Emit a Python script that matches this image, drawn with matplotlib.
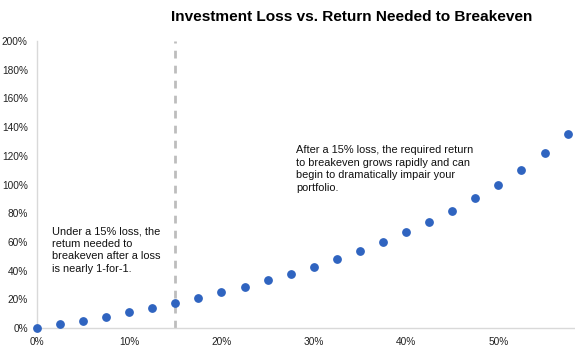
import matplotlib
matplotlib.use('Agg')
from matplotlib import pyplot as plt
from matplotlib.ticker import PercentFormatter

plt.rcParams['font.family'] = ['Liberation Sans', 'DejaVu Sans']

# loss (x) and return needed to breakeven (y)
loss = [0, 2.5, 5, 7.5, 10, 12.5, 15, 17.5, 20, 22.5, 25, 27.5,
        30, 32.5, 35, 37.5, 40, 42.5, 45, 47.5, 50, 52.5, 55, 57.5]
needed = [0, 2.6, 5.3, 8.1, 11.1, 14.3, 17.6, 21.2, 25, 29, 33.3, 37.9,
          42.9, 48.1, 53.8, 60, 66.7, 73.9, 81.8, 90.5, 100, 110.5, 122.2, 135.3]
x_ticks = [0, 10, 20, 30, 40, 50]
y_ticks = [0, 20, 40, 60, 80, 100, 120, 140, 160, 180, 200]
cutoff = 15

fig = plt.figure(figsize=(5.75, 3.54), dpi=100)
ax = fig.add_axes([0.064, 0.073, 0.936, 0.811])

ax.scatter(loss, needed, s=28, color='#2f64c0', zorder=3, clip_on=False)
ax.axvline(cutoff, color='#bdbdbd', linewidth=2.0, linestyle=(0, (2.8, 2.6)))

ax.set_xlim(0, 58.3)
ax.set_ylim(0, 200)
ax.set_xticks(x_ticks)
ax.set_yticks(y_ticks)
ax.xaxis.set_major_formatter(PercentFormatter(decimals=0))
ax.yaxis.set_major_formatter(PercentFormatter(decimals=0))
ax.tick_params(length=0, labelsize=7.3, colors='#222222')
ax.tick_params(axis='x', pad=6.5)
ax.tick_params(axis='y', pad=6.5)

for s in ['top', 'right']:
    ax.spines[s].set_visible(False)
for s in ['left', 'bottom']:
    ax.spines[s].set_color('#d9d9d9')
    ax.spines[s].set_linewidth(1.0)

fig.text(0.611, 0.952, 'Investment Loss vs. Return Needed to Breakeven',
         ha='center', va='center', fontsize=11.1, fontweight='bold')

ax.text(1.6, 71, 'Under a 15% loss, the\nretum needed to\nbreakeven after a loss\nis nearly 1-for-1.',
        ha='left', va='top', fontsize=7.9, linespacing=1.32, color='#111111')
ax.text(28.1, 127.5, 'After a 15% loss, the required return\nto breakeven grows rapidly and can\nbegin to dramatically impair your\nportfolio.',
        ha='left', va='top', fontsize=7.9, linespacing=1.32, color='#111111')

fig.savefig('out.png', dpi=100)
